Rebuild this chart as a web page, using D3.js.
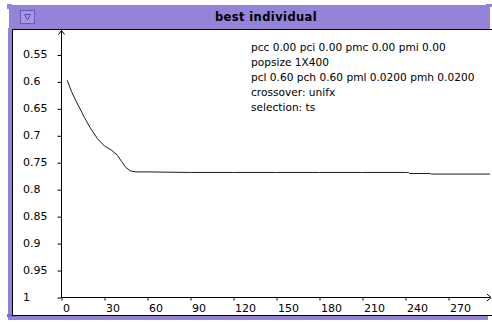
<!DOCTYPE html>
<html>
<head>
<meta charset="utf-8">
<script src="https://cdn.jsdelivr.net/npm/d3@7/dist/d3.min.js"></script>
<style>
  html, body { margin: 0; padding: 0; background: #ffffff; }
  svg { display: block; }
  text { font-family: "DejaVu Sans", Verdana, sans-serif; fill: #000; }
</style>
</head>
<body>
<script>
// Best-individual fitness per generation (GA run, popsize 1X400)
const generations = [4, 7, 10, 13, 16, 20, 25, 30, 35, 39, 42, 45, 48, 52, 60, 90, 120, 150, 180, 210, 240, 242, 243, 257, 258, 299];
const bestFitness = [0.597, 0.618, 0.635, 0.650, 0.666, 0.685, 0.705, 0.719, 0.727, 0.736, 0.748, 0.759, 0.765, 0.767, 0.767, 0.768, 0.768, 0.768, 0.768, 0.768, 0.768, 0.768, 0.770, 0.770, 0.771, 0.771];

const xTicks = [0, 30, 60, 90, 120, 150, 180, 210, 240, 270];
const yTicks = [0.55, 0.6, 0.65, 0.7, 0.75, 0.8, 0.85, 0.9, 0.95, 1];
const yTickLabels = ["0.55", "0.6", "0.65", "0.7", "0.75", "0.8", "0.85", "0.9", "0.95", "1"];

const windowTitle = "best individual";
const infoLines = [
  "pcc 0.00 pci 0.00 pmc 0.00 pmi 0.00",
  "popsize 1X400",
  "pcl 0.60 pch 0.60 pml 0.0200 pmh 0.0200",
  "crossover: unifx",
  "selection: ts"
];

const W = 492, H = 322;
const frameColor = "#9483d9";

const svg = d3.select("body").append("svg")
  .attr("width", W).attr("height", H);

// ---- window chrome ----
svg.append("rect").attr("x", 7).attr("y", 4).attr("width", 5).attr("height", 5).attr("fill", frameColor);
svg.append("rect").attr("x", 486).attr("y", 4).attr("width", 6).attr("height", 3).attr("fill", frameColor);
svg.append("rect").attr("x", 9).attr("y", 5).attr("width", 481).attr("height", 24).attr("fill", frameColor);
svg.append("rect").attr("x", 8).attr("y", 28).attr("width", 5).attr("height", 292).attr("fill", frameColor);
svg.append("rect").attr("x", 8).attr("y", 315).attr("width", 480).attr("height", 5).attr("fill", frameColor);
svg.append("rect").attr("x", 7).attr("y", 314).attr("width", 9).attr("height", 3).attr("fill", "#7d6cc9");

// close box with triangle
svg.append("rect").attr("x", 20.5).attr("y", 10.5).attr("width", 14).attr("height", 13)
  .attr("fill", "#a797e6").attr("stroke", "#6b5bb8").attr("stroke-width", 1);
svg.append("path").attr("d", "M24.5,14.5 L30.5,14.5 L27.5,20 Z")
  .attr("fill", "none").attr("stroke", "#5a4aa6").attr("stroke-width", 1);

svg.append("text").attr("x", 266).attr("y", 20.5)
  .attr("text-anchor", "middle")
  .style("font-size", "11.5px").style("font-weight", "bold")
  .style("letter-spacing", "0.4px")
  .text(windowTitle);

// content pane
svg.append("rect").attr("x", 12.5).attr("y", 29.5).attr("width", 480).attr("height", 286)
  .attr("fill", "#ffffff").attr("stroke", "#000").attr("stroke-width", 1);

svg.append("clipPath").attr("id", "pane")
  .append("rect").attr("x", 13).attr("y", 30).attr("width", 478).attr("height", 285);

const pane = svg.append("g").attr("clip-path", "url(#pane)");

// ---- scales ----
const x = d3.scaleLinear().domain([0, 300]).range([61.5, 491.5]);
const y = d3.scaleLinear().domain([0.5, 1]).range([28, 297.5]);

// x axis
const xAxis = pane.append("g")
  .attr("transform", `translate(0,${y(1)})`)
  .call(d3.axisBottom(x).tickValues(xTicks).tickSize(3).tickSizeOuter(0));
xAxis.select(".domain").remove();
xAxis.selectAll(".tick line").attr("stroke", "#000");
xAxis.selectAll(".tick text")
  .attr("text-anchor", "start").attr("x", 1).attr("y", 14.5).attr("dy", null)
  .style("font-size", "11px").style("font-family", "DejaVu Sans").attr("fill", "#000");

// y axis
const yAxis = pane.append("g")
  .attr("transform", `translate(${x(0)},0)`)
  .call(d3.axisLeft(y).tickValues(yTicks).tickFormat((d, i) => yTickLabels[i]).tickSize(4).tickSizeOuter(0));
yAxis.select(".domain").remove();
yAxis.selectAll(".tick line").attr("stroke", "#000");
yAxis.selectAll(".tick text")
  .attr("text-anchor", "start").attr("x", 23 - x(0)).attr("y", 2.5).attr("dy", null)
  .style("font-size", "11px").style("font-family", "DejaVu Sans").attr("fill", "#000");

// axis lines with arrow heads
const x0 = x(0), y0 = y(1);
const yTop = y(0.5) + 2.5, xRight = x(300) - 0.5;
pane.append("path")
  .attr("d", `M${x0},${y0} L${x0},${yTop} M${x0 - 3},${yTop + 4} L${x0},${yTop} L${x0 + 3},${yTop + 4}`)
  .attr("fill", "none").attr("stroke", "#000").attr("stroke-width", 1);
pane.append("path")
  .attr("d", `M${x0},${y0} L${xRight},${y0} M${xRight - 4},${y0 - 3.5} L${xRight},${y0} L${xRight - 4},${y0 + 3.5}`)
  .attr("fill", "none").attr("stroke", "#000").attr("stroke-width", 1);

// fitness curve
const line = d3.line()
  .x((d, i) => x(generations[i]))
  .y(d => y(d));
pane.append("path")
  .datum(bestFitness)
  .attr("d", line)
  .attr("fill", "none").attr("stroke", "#1a1a1a").attr("stroke-width", 1);

// run parameters
pane.append("g").selectAll("text")
  .data(infoLines)
  .join("text")
  .attr("x", 251)
  .attr("y", (d, i) => 51 + i * 15)
  .style("font-size", "10.6px")
  .text(d => d);
</script>
</body>
</html>
